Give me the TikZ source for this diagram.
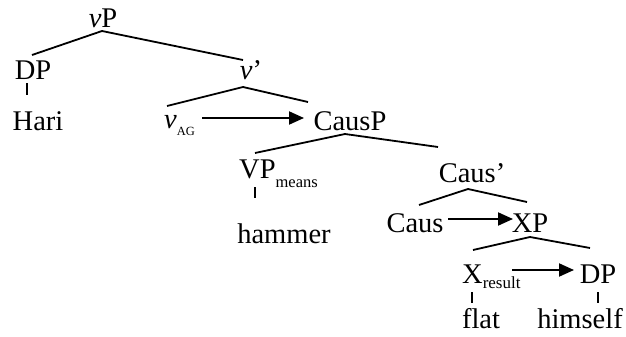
\documentclass[tikz,border=0pt]{standalone}
\usepackage{fontspec}
\setmainfont{Liberation Serif}
\usetikzlibrary{arrows.meta}
\begin{document}
\begin{tikzpicture}[x=1pt,y=-1pt,
  lab/.style={anchor=base,inner sep=0pt,font=\fontsize{28.5}{30}\selectfont},
  labw/.style={lab,anchor=base west},
  br/.style={line width=1.8pt},
  tk/.style={line width=1.8pt},
  mv/.style={line width=2pt,-{Triangle[length=15pt,width=13pt]}}]
\useasboundingbox (0,0) rectangle (626,337);
% labels
\node[lab] (vP) at (103,28) {\textit{v}P};
\node[lab] (DPa) at (33,79) {DP};
\node[lab] (Hari) at (38,130) {Hari};
\node[lab] (vbar) at (251,79) {\textit{v}’};
\node[labw] (vAG) at (164,128) {\textit{v}\raisebox{-7pt}{\fontsize{12.5}{13}\selectfont AG}};
\node[lab] (CausP) at (350,130) {CausP};
\node[labw] (VP) at (239,178) {VP\raisebox{-9pt}{\fontsize{16.5}{17}\selectfont means}};
\node[lab] (hammer) at (284,243) {hammer};
\node[lab] (Causbar) at (472,182) {Caus’};
\node[lab] (Caus) at (415,232) {Caus};
\node[lab] (XP) at (530,232) {XP};
\node[labw] (X) at (462,283) {X\raisebox{-5pt}{\fontsize{17}{18}\selectfont result}};
\node[lab] (DPb) at (598,283) {DP};
\node[lab] (flat) at (481,328) {flat};
\node[lab] (himself) at (580,328) {himself};
% branch points
\coordinate (vPt) at (102,31);  \coordinate (vPl) at (32,55);   \coordinate (vPr) at (243,60);
\coordinate (vbt) at (243,87);  \coordinate (vbl) at (167,106); \coordinate (vbr) at (308,102);
\coordinate (CPt) at (345,134); \coordinate (CPl) at (255,153); \coordinate (CPr) at (438,147);
\coordinate (Cbt) at (468,189); \coordinate (Cbl) at (419,205); \coordinate (Cbr) at (527,202);
\coordinate (XPt) at (530,237); \coordinate (XPl) at (473,250); \coordinate (XPr) at (590,248);
\draw[br] (vPl) -- (vPt) -- (vPr);
\draw[br] (vbl) -- (vbt) -- (vbr);
\draw[br] (CPl) -- (CPt) -- (CPr);
\draw[br] (Cbl) -- (Cbt) -- (Cbr);
\draw[br] (XPl) -- (XPt) -- (XPr);
% ticks
\coordinate (t1a) at (27,83);  \coordinate (t1b) at (27,95);
\coordinate (t2a) at (255,187); \coordinate (t2b) at (255,198);
\coordinate (t3a) at (472,292); \coordinate (t3b) at (472,303);
\coordinate (t4a) at (598,292); \coordinate (t4b) at (598,303);
\draw[tk] (t1a) -- (t1b);
\draw[tk] (t2a) -- (t2b);
\draw[tk] (t3a) -- (t3b);
\draw[tk] (t4a) -- (t4b);
% movement arrows
\coordinate (m1a) at (202,118); \coordinate (m1b) at (304,118);
\coordinate (m2a) at (448,219); \coordinate (m2b) at (513,219);
\coordinate (m3a) at (512,270); \coordinate (m3b) at (574,270);
\draw[mv] (m1a) -- (m1b);
\draw[mv] (m2a) -- (m2b);
\draw[mv] (m3a) -- (m3b);
\end{tikzpicture}
\end{document}
